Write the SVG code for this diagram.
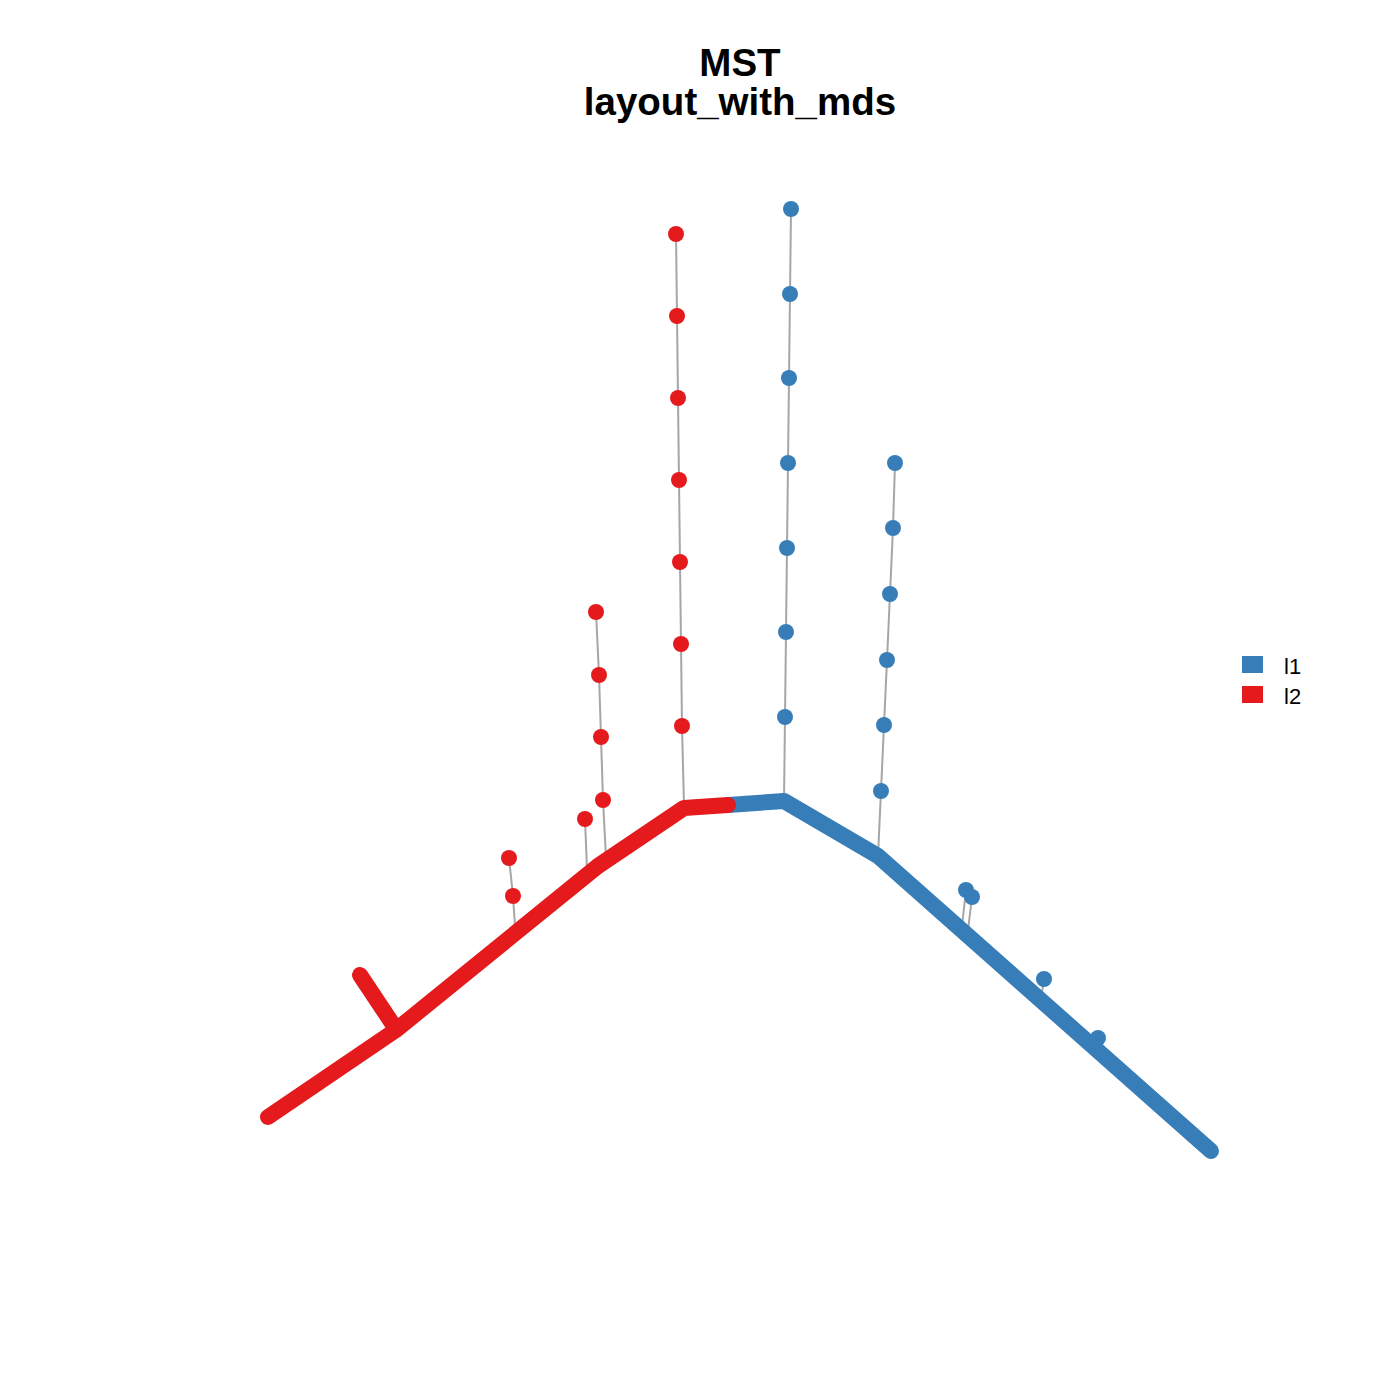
<svg xmlns="http://www.w3.org/2000/svg" width="1400" height="1400" viewBox="0 0 1400 1400">
<style>
.e{stroke:#A6A6A6;stroke-width:2;fill:none}
.b{fill:#377EB8}
.r{fill:#E41A1C}
.cb{stroke:#377EB8;stroke-width:16;fill:none;stroke-linecap:round;stroke-linejoin:round}
.cr{stroke:#E41A1C;stroke-width:16;fill:none;stroke-linecap:round;stroke-linejoin:round}
.t{font-family:"Liberation Sans",Arial,sans-serif;font-weight:bold;font-size:38.5px;text-anchor:middle}
.l{font-family:"Liberation Sans",Arial,sans-serif;font-size:22px}
</style>
<rect width="1400" height="1400" fill="#fff"/>
<text class="t" x="740" y="76">MST</text>
<text class="t" x="740" y="115">layout_with_mds</text>
<g id="edges">
<polyline class="e" points="676,234 677,316 678,398 679,480 680,562 681,644 682,726 684,806"/>
<polyline class="e" points="791,209 790,294 789,378 788,463 787,548 786,632 785,717 784,801"/>
<polyline class="e" points="895,463 893,528 890,594 887,660 884,725 881,791 878,856"/>
<polyline class="e" points="596,612 599,675 601,737 603,800 606,858"/>
<line class="e" x1="585" y1="819" x2="587" y2="870"/>
<polyline class="e" points="509,858 513,896 515,926"/>
<line class="e" x1="966" y1="890" x2="962" y2="926"/>
<line class="e" x1="972" y1="897" x2="968" y2="930"/>
<line class="e" x1="1044" y1="979" x2="1042" y2="992"/>
</g>
<g id="chain-l1"><polyline class="cb" points="728,805 784,801 878,856 1211,1151"/></g>
<g id="chain-l2"><polyline class="cr" points="268,1117 396,1030 598,866 684,808 728,805"/><polyline class="cr" points="360,975 394,1026"/></g>
<g id="nodes-l2">
<circle class="r" cx="676" cy="234" r="8"/><circle class="r" cx="677" cy="316" r="8"/><circle class="r" cx="678" cy="398" r="8"/><circle class="r" cx="679" cy="480" r="8"/><circle class="r" cx="680" cy="562" r="8"/><circle class="r" cx="681" cy="644" r="8"/><circle class="r" cx="682" cy="726" r="8"/>
<circle class="r" cx="596" cy="612" r="8"/><circle class="r" cx="599" cy="675" r="8"/><circle class="r" cx="601" cy="737" r="8"/><circle class="r" cx="603" cy="800" r="8"/>
<circle class="r" cx="585" cy="819" r="8"/><circle class="r" cx="509" cy="858" r="8"/><circle class="r" cx="513" cy="896" r="8"/>
</g>
<g id="nodes-l1">
<circle class="b" cx="791" cy="209" r="8"/><circle class="b" cx="790" cy="294" r="8"/><circle class="b" cx="789" cy="378" r="8"/><circle class="b" cx="788" cy="463" r="8"/><circle class="b" cx="787" cy="548" r="8"/><circle class="b" cx="786" cy="632" r="8"/><circle class="b" cx="785" cy="717" r="8"/>
<circle class="b" cx="895" cy="463" r="8"/><circle class="b" cx="893" cy="528" r="8"/><circle class="b" cx="890" cy="594" r="8"/><circle class="b" cx="887" cy="660" r="8"/><circle class="b" cx="884" cy="725" r="8"/><circle class="b" cx="881" cy="791" r="8"/>
<circle class="b" cx="966" cy="890" r="8"/><circle class="b" cx="972" cy="897" r="8"/><circle class="b" cx="1044" cy="979" r="8"/><circle class="b" cx="1098" cy="1038" r="8"/>
</g>
<g id="legend">
<rect class="b" x="1242" y="656" width="21" height="17"/>
<rect class="r" x="1242" y="686" width="21" height="17"/>
<text class="l" x="1284" y="674">l1</text>
<text class="l" x="1284" y="704">l2</text>
</g>
</svg>
